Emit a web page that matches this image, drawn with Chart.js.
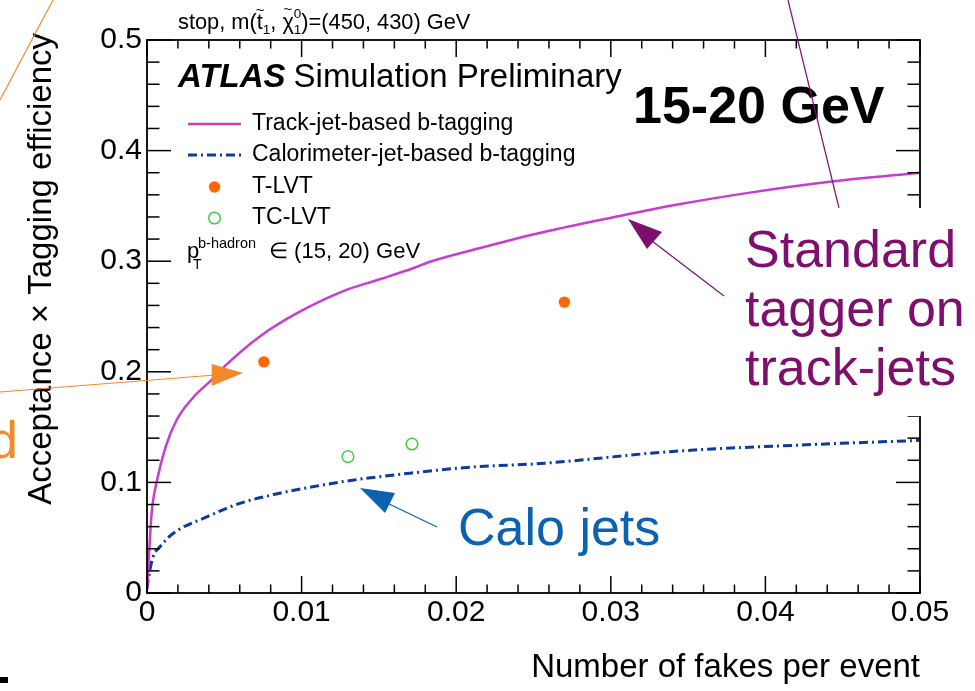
<!DOCTYPE html>
<html>
<head>
<meta charset="utf-8">
<script src="https://cdn.jsdelivr.net/npm/chart.js@4.4.1/dist/chart.umd.min.js"></script>
<style>
  html, body { margin: 0; padding: 0; background: #fff; }
  #wrap { width: 975px; height: 691px; }
</style>
</head>
<body>
<div id="wrap"><canvas id="chart" width="975" height="691"></canvas></div>
<script>
// Efficiency vs fakes
const trackX = [0, 0.0001, 0.0003, 0.00065, 0.0012, 0.0019, 0.003, 0.0042, 0.0051, 0.0073, 0.0097, 0.0127, 0.0150, 0.0172, 0.0183, 0.0215, 0.0258, 0.0301, 0.0344, 0.0390, 0.0443, 0.05];
const trackY = [0.003, 0.027, 0.072, 0.102, 0.132, 0.156, 0.177, 0.193, 0.206, 0.232, 0.253, 0.273, 0.2834, 0.2936, 0.2995, 0.3117, 0.3268, 0.3395, 0.3514, 0.362, 0.372, 0.380];

const caloX = [0, 0.0001, 0.0004, 0.00085, 0.0017, 0.0039, 0.006, 0.0082, 0.0103, 0.0133, 0.0168, 0.0211, 0.0254, 0.034, 0.0426, 0.05];
const caloY = [0.004, 0.014, 0.033, 0.042, 0.054, 0.069, 0.081, 0.089, 0.095, 0.102, 0.108, 0.114, 0.117, 0.128, 0.134, 0.138];

const tlvtX = [0.00756, 0.0270];
const tlvtY = [0.209, 0.263];

const tclvtX = [0.0130, 0.01714];
const tclvtY = [0.1233, 0.1347];

const seriesNames = ['Track-jet-based b-tagging', 'Calorimeter-jet-based b-tagging', 'T-LVT', 'TC-LVT'];
const yTitle = 'Acceptance \u00d7 Tagging efficiency';
const xTitle = 'Number of fakes per event';

const xMin = 0, xMax = 0.05, xStep = 0.01, xMinorDiv = 5;
const yMin = 0, yMax = 0.5, yStep = 0.1, yMinorDiv = 5;

const FONT = '"Liberation Sans", Arial, Helvetica, sans-serif';

function toPoints(xs, ys) {
  return xs.map((x, i) => ({ x: x, y: ys[i] }));
}

function strokeLine(ctx, x1, y1, x2, y2) {
  ctx.beginPath();
  ctx.moveTo(x1, y1);
  ctx.lineTo(x2, y2);
  ctx.stroke();
}

function arrow(ctx, color, from, shaftEnd, tip, b1, b2) {
  ctx.strokeStyle = color;
  ctx.fillStyle = color;
  ctx.lineWidth = 1.2;
  strokeLine(ctx, from[0], from[1], shaftEnd[0], shaftEnd[1]);
  ctx.beginPath();
  ctx.moveTo(tip[0], tip[1]);
  ctx.lineTo(b1[0], b1[1]);
  ctx.lineTo(b2[0], b2[1]);
  ctx.closePath();
  ctx.fill();
}

function text(ctx, str, x, y, size, color, weight, align) {
  ctx.font = (weight || '') + ' ' + size + 'px ' + FONT;
  ctx.fillStyle = color || '#000';
  ctx.textAlign = align || 'left';
  ctx.textBaseline = 'alphabetic';
  ctx.fillText(str, x, y);
  return ctx.measureText(str).width;
}

// ROOT style frame: box on all four sides with inward ticks
const framePlugin = {
  id: 'frame',
  afterDatasetsDraw(chart) {
    const { ctx, chartArea: a, scales: { x, y } } = chart;
    ctx.save();
    ctx.strokeStyle = '#000';
    ctx.lineWidth = 1.8;
    ctx.strokeRect(a.left, a.top, a.right - a.left, a.bottom - a.top);
    ctx.lineWidth = 1.5;
    const nx = Math.round((xMax - xMin) / xStep * xMinorDiv);
    for (let i = 0; i <= nx; i++) {
      const px = x.getPixelForValue(xMin + i * xStep / xMinorDiv);
      const len = i % xMinorDiv === 0 ? 17 : 8.5;
      strokeLine(ctx, px, a.bottom, px, a.bottom - len);
      strokeLine(ctx, px, a.top, px, a.top + len);
    }
    const ny = Math.round((yMax - yMin) / yStep * yMinorDiv);
    for (let i = 0; i <= ny; i++) {
      const py = y.getPixelForValue(yMin + i * yStep / yMinorDiv);
      const len = i % yMinorDiv === 0 ? 24 : 12.5;
      strokeLine(ctx, a.left, py, a.left + len, py);
      strokeLine(ctx, a.right, py, a.right - len, py);
    }

    // y title sits a little above the frame top, right aligned like ROOT
    ctx.save();
    ctx.translate(51, 33);
    ctx.rotate(-Math.PI / 2);
    text(ctx, yTitle, 0, 0, 33, '#000', '', 'right');
    ctx.restore();
    ctx.restore();
  }
};

const legendPlugin = {
  id: 'rootLegend',
  afterDraw(chart) {
    const { ctx } = chart;
    const ds = chart.data.datasets;
    const rows = [124, 155, 187, 218];
    ctx.save();
    // line samples
    ctx.lineWidth = ds[0].borderWidth;
    ctx.strokeStyle = ds[0].borderColor;
    strokeLine(ctx, 188, rows[0], 241, rows[0]);
    ctx.lineWidth = ds[1].borderWidth;
    ctx.strokeStyle = ds[1].borderColor;
    ctx.setLineDash(ds[1].borderDash);
    strokeLine(ctx, 188, rows[1], 241, rows[1]);
    ctx.setLineDash([]);
    // markers
    ctx.fillStyle = ds[2].backgroundColor;
    ctx.beginPath();
    ctx.arc(214.5, rows[2], ds[2].pointRadius, 0, Math.PI * 2);
    ctx.fill();
    ctx.strokeStyle = ds[3].borderColor;
    ctx.lineWidth = ds[3].borderWidth;
    ctx.beginPath();
    ctx.arc(214.5, rows[3], ds[3].pointRadius, 0, Math.PI * 2);
    ctx.stroke();
    ctx.font = '23px ' + FONT;
    ctx.fillStyle = '#000';
    ctx.textAlign = 'left';
    ctx.textBaseline = 'middle';
    seriesNames.forEach((n, i) => ctx.fillText(n, 252, rows[i]));

    // p_T^{b-hadron} in (15, 20) GeV
    text(ctx, 'p', 187, 258, 22);
    text(ctx, 'b-hadron', 198, 248, 14.5);
    text(ctx, 'T', 193, 269, 14);
    text(ctx, '\u2208 (15, 20) GeV', 269, 258, 22);

    // stop, m(t~1, chi~0 1)=(450, 430) GeV
    let cx = 178;
    cx += text(ctx, 'stop, m(', cx, 29, 21.8);
    const tx = cx;
    cx += text(ctx, 't', cx, 29, 21.8);
    text(ctx, '~', tx - 1, 15, 15);
    cx += text(ctx, '1', cx, 34, 13.5);
    cx += text(ctx, ', ', cx, 29, 21.8);
    const chx = cx;
    cx += text(ctx, '\u03c7', cx, 29, 21.8);
    text(ctx, '~', chx + 1, 14, 15);
    text(ctx, '0', cx, 18, 13.5);
    cx += text(ctx, '1', cx, 34, 13.5);
    text(ctx, ')=(450, 430) GeV', cx, 29, 21.8);

    // ATLAS label
    const w = text(ctx, 'ATLAS', 178, 87, 33, '#000', 'italic bold');
    text(ctx, 'Simulation Preliminary', 178 + w + 8, 87, 33);

    text(ctx, '15-20 GeV', 633, 123, 52, '#000', 'bold');
    ctx.restore();
  }
};

// slide annotations drawn over the plot
const notePlugin = {
  id: 'notes',
  afterDraw(chart) {
    const { ctx } = chart;
    ctx.save();
    const purple = '#7f0f6e', blue = '#0a62b0', orange = '#f28a2a';

    ctx.fillStyle = '#fff';
    ctx.fillRect(730, 208, 245, 208);
    text(ctx, 'Standard', 745, 267, 52, purple);
    text(ctx, 'tagger on', 745, 326, 52, purple);
    text(ctx, 'track-jets', 745, 385, 52, purple);
    ctx.strokeStyle = purple;
    ctx.lineWidth = 1.2;
    strokeLine(ctx, 788, 0, 839, 208);
    arrow(ctx, purple, [724, 296], [652, 241], [628, 219], [662, 232], [647, 249]);

    text(ctx, 'Calo jets', 458, 545, 52, blue);
    arrow(ctx, blue, [437, 527], [385, 502], [360, 488], [395, 493], [385, 513]);

    text(ctx, 'd', 18, 458, 52, orange, '', 'right');
    ctx.strokeStyle = orange;
    ctx.lineWidth = 1.2;
    strokeLine(ctx, 0, 100, 53, 0);
    arrow(ctx, orange, [0, 392], [215, 375], [243, 373], [211.7, 364], [211.7, 386]);

    ctx.fillStyle = '#000';
    ctx.fillRect(0, 677, 8, 6);
    ctx.restore();
  }
};

new Chart(document.getElementById('chart'), {
  type: 'scatter',
  data: {
    datasets: [
      {
        label: seriesNames[0],
        data: toPoints(trackX, trackY),
        showLine: true,
        borderColor: '#c83cd0',
        borderWidth: 2.5,
        pointRadius: 0,
        cubicInterpolationMode: 'monotone'
      },
      {
        label: seriesNames[1],
        data: toPoints(caloX, caloY),
        showLine: true,
        borderColor: '#0c3a9e',
        borderWidth: 3,
        borderDash: [9, 4, 2, 4],
        pointRadius: 0,
        cubicInterpolationMode: 'monotone'
      },
      {
        label: seriesNames[2],
        data: toPoints(tlvtX, tlvtY),
        pointRadius: 5.7,
        backgroundColor: '#ff6600',
        borderWidth: 0
      },
      {
        label: seriesNames[3],
        data: toPoints(tclvtX, tclvtY),
        pointRadius: 5.8,
        backgroundColor: 'rgba(0,0,0,0)',
        borderColor: '#44cc44',
        borderWidth: 1.5
      }
    ]
  },
  options: {
    responsive: false,
    animation: false,
    devicePixelRatio: 1,
    layout: { padding: { left: 0, right: 55, top: 40, bottom: 0 } },
    plugins: {
      legend: { display: false },
      tooltip: { enabled: false }
    },
    scales: {
      x: {
        type: 'linear',
        min: xMin,
        max: xMax,
        grid: { display: false, drawTicks: false },
        border: { display: false },
        ticks: {
          stepSize: xStep,
          autoSkip: false,
          maxRotation: 0,
          padding: 2,
          color: '#000',
          font: { family: FONT, size: 30 },
          callback: v => (v === 0 ? '0' : v.toFixed(2))
        },
        title: {
          display: true,
          text: xTitle,
          align: 'end',
          color: '#000',
          font: { family: FONT, size: 33, lineHeight: 1 },
          padding: { top: 0, bottom: 7 }
        },
        afterFit: s => { s.height = 98; }
      },
      y: {
        type: 'linear',
        min: yMin,
        max: yMax,
        grid: { display: false, drawTicks: false },
        border: { display: false },
        ticks: {
          stepSize: yStep,
          autoSkip: false,
          padding: 5,
          color: '#000',
          font: { family: FONT, size: 30 },
          callback: v => (v === 0 ? '0' : v.toFixed(1))
        },
        title: { display: false },
        afterFit: s => { s.width = 147; }
      }
    }
  },
  plugins: [framePlugin, legendPlugin, notePlugin]
});
</script>
</body>
</html>
